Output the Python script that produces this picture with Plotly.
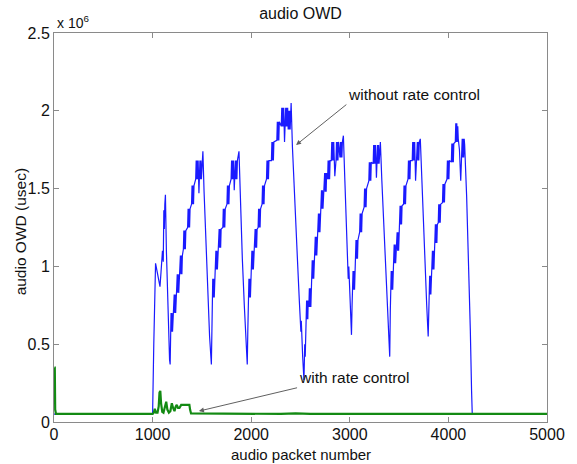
import plotly.graph_objects as go

# audio OWD in units of 10^6 usec, x = audio packet number
# without rate control (blue); step blocks are written as lo/hi zigzags
blue_x = [
    0, 1000, 1012, 1022, 1030, 1045, 1060, 1075, 1085, 1095, 1100, 1108, 1114, 1119, 1124, 1130,
    1140, 1152, 1163, 1172, 1178,
    # ramp 2
    1182, 1187, 1192, 1197, 1202, 1207,
    1214, 1219, 1224, 1229, 1234, 1239,
    1245, 1250, 1255, 1260, 1265, 1270,
    1277, 1282, 1287, 1292, 1297, 1302,
    1312, 1317, 1322, 1327, 1332, 1337,
    1355, 1360, 1365, 1370, 1375, 1380,
    1395, 1400, 1405, 1410, 1415, 1420,
    1437, 1442, 1447, 1452, 1457, 1462,
    1470,
    1475, 1480, 1485, 1490, 1495, 1500,
    1510, 1522, 1540, 1560, 1578, 1596,
    # ramp 3
    1601,
    1605, 1610, 1615, 1620, 1625, 1630,
    1637, 1642, 1647, 1652, 1657, 1662,
    1670, 1675, 1680, 1685, 1690, 1695,
    1712, 1717, 1722, 1727, 1732, 1737,
    1754, 1759, 1764, 1769, 1774, 1779,
    1796, 1801, 1806, 1811, 1816, 1821,
    1828,
    1835, 1840, 1845, 1850, 1855, 1860,
    1876, 1890, 1910, 1930, 1948, 1960,
    # ramp 4
    1966,
    1972, 1977, 1982, 1987, 1992, 1997,
    2002, 2007, 2012, 2017, 2022, 2027,
    2035, 2040, 2045, 2050, 2055, 2060,
    2070, 2075, 2080, 2085, 2090, 2095,
    2110, 2115, 2120, 2125, 2130, 2135,
    2155, 2160, 2165, 2170, 2175, 2180,
    2205, 2210, 2215, 2220, 2225, 2230,
    2260, 2265, 2270, 2275, 2280, 2285,
    2305, 2310, 2315, 2320, 2325, 2330,
    2338,
    2345, 2350, 2355, 2360, 2365, 2370,
    2375, 2380, 2385, 2390, 2395, 2400,
    2405, 2418, 2440, 2465, 2488, 2500, 2504, 2508, 2512, 2522, 2535,
    # ramp 5
    2543, 2548, 2553,
    2558, 2562, 2566, 2570, 2574, 2578,
    2585, 2590, 2595, 2600, 2605, 2610,
    2614, 2619, 2624, 2629, 2634, 2639,
    2645, 2650, 2655, 2660, 2665, 2670,
    2677, 2682, 2687, 2692, 2697, 2702,
    2708, 2713, 2718, 2723, 2728, 2733,
    2740, 2745, 2750, 2755, 2760, 2765,
    2775, 2780, 2785, 2790, 2795, 2800,
    2812, 2817, 2822, 2827, 2832, 2837,
    2848,
    2860, 2865, 2870, 2875, 2880, 2885,
    2900, 2905, 2910, 2915, 2920, 2925,
    2935, 2950, 2965, 2978, 2984, 2990, 3000, 3017,
    # ramp 6
    3023,
    3028, 3033, 3038, 3043, 3048, 3053,
    3058, 3063, 3068, 3073, 3078, 3083,
    3100, 3105, 3110, 3115, 3120, 3125,
    3145, 3150, 3155, 3160, 3165, 3170,
    3193, 3198, 3203, 3208, 3213, 3218,
    3237, 3242, 3247, 3252, 3257, 3262,
    3270,
    3277, 3282, 3287, 3292, 3297, 3302,
    3310, 3325, 3345, 3365, 3385, 3405,
    # ramp 7
    3411,
    3415, 3420, 3425, 3430, 3435, 3440,
    3445, 3450, 3455, 3460, 3465, 3470,
    3475, 3480, 3485, 3490, 3495, 3500,
    3505, 3510, 3515, 3520, 3525, 3530,
    3545, 3550, 3555, 3560, 3565, 3570,
    3590, 3595, 3600, 3605, 3610, 3615,
    3633, 3638, 3643, 3648, 3653, 3658,
    3667,
    3680, 3685, 3690, 3695, 3700, 3705,
    3715, 3730, 3748, 3765, 3780, 3795,
    # ramp 8
    3802,
    3806, 3810, 3814, 3818, 3822, 3826,
    3833, 3838, 3843, 3848, 3853, 3858,
    3863, 3868, 3873, 3878, 3883, 3888,
    3897, 3902, 3907, 3912, 3917, 3922,
    3940, 3945, 3950, 3955, 3960, 3965,
    3985, 3990, 3995, 4000, 4005, 4010,
    4030, 4035, 4040, 4045, 4050, 4055,
    4070, 4075, 4080, 4085, 4090, 4095,
    4100, 4112, 4125,
    4135, 4140, 4145, 4150, 4155, 4160,
    4165, 4185, 4205, 4222, 4235, 4242, 5000,
]
blue_y = [
    0.05, 0.05, 0.50, 0.90, 1.02, 0.97, 0.91, 0.87, 0.96, 1.06, 1.10, 1.03, 1.36, 1.24, 1.40, 1.46,
    1.10, 0.78, 0.52, 0.40, 0.37,
    # ramp 2
    0.58, 0.70, 0.58, 0.70, 0.58, 0.70,
    0.70, 0.82, 0.70, 0.82, 0.70, 0.82,
    0.83, 0.95, 0.83, 0.95, 0.83, 0.95,
    0.95, 1.07, 0.95, 1.07, 0.95, 1.07,
    1.11, 1.23, 1.11, 1.23, 1.11, 1.23,
    1.25, 1.37, 1.25, 1.37, 1.25, 1.37,
    1.40, 1.52, 1.40, 1.52, 1.40, 1.52,
    1.56, 1.68, 1.56, 1.68, 1.56, 1.68,
    1.47,
    1.56, 1.68, 1.56, 1.68, 1.56, 1.68,
    1.74, 1.48, 1.15, 0.82, 0.55, 0.37,
    # ramp 3
    0.60,
    0.80, 0.92, 0.80, 0.92, 0.80, 0.92,
    0.98, 1.10, 0.98, 1.10, 0.98, 1.10,
    1.12, 1.24, 1.12, 1.24, 1.12, 1.24,
    1.25, 1.37, 1.25, 1.37, 1.25, 1.37,
    1.40, 1.52, 1.40, 1.52, 1.40, 1.52,
    1.56, 1.68, 1.56, 1.68, 1.56, 1.68,
    1.49,
    1.56, 1.68, 1.56, 1.68, 1.56, 1.68,
    1.74, 1.40, 1.05, 0.75, 0.50, 0.37,
    # ramp 4
    0.60,
    0.80, 0.92, 0.80, 0.92, 0.80, 0.92,
    0.98, 1.10, 0.98, 1.10, 0.98, 1.10,
    1.12, 1.24, 1.12, 1.24, 1.12, 1.24,
    1.25, 1.37, 1.25, 1.37, 1.25, 1.37,
    1.40, 1.52, 1.40, 1.52, 1.40, 1.52,
    1.56, 1.68, 1.56, 1.68, 1.56, 1.68,
    1.68, 1.80, 1.68, 1.80, 1.68, 1.80,
    1.81, 1.93, 1.81, 1.93, 1.81, 1.93,
    1.90, 2.02, 1.90, 2.02, 1.90, 2.02,
    1.80,
    1.90, 2.02, 1.90, 2.02, 1.90, 2.02,
    1.88, 2.00, 1.88, 2.00, 1.88, 2.00,
    2.05, 1.77, 1.50, 1.10, 0.78, 0.66, 0.58, 0.65, 0.57, 0.42, 0.27,
    # ramp 5
    0.50, 0.42, 0.55,
    0.66, 0.78, 0.66, 0.78, 0.66, 0.78,
    0.74, 0.86, 0.74, 0.86, 0.74, 0.86,
    0.92, 1.04, 0.92, 1.04, 0.92, 1.04,
    1.07, 1.19, 1.07, 1.19, 1.07, 1.19,
    1.22, 1.34, 1.22, 1.34, 1.22, 1.34,
    1.37, 1.49, 1.37, 1.49, 1.37, 1.49,
    1.48, 1.60, 1.48, 1.60, 1.48, 1.60,
    1.56, 1.68, 1.56, 1.68, 1.56, 1.68,
    1.68, 1.80, 1.68, 1.80, 1.68, 1.80,
    1.58,
    1.68, 1.80, 1.68, 1.80, 1.68, 1.80,
    1.70, 1.80, 1.70, 1.80, 1.70, 1.80,
    1.84, 1.55, 1.25, 1.00, 0.92, 1.00, 0.80, 0.56,
    # ramp 6
    0.75,
    0.85, 0.97, 0.85, 0.97, 0.85, 0.97,
    1.05, 1.17, 1.05, 1.17, 1.05, 1.17,
    1.22, 1.34, 1.22, 1.34, 1.22, 1.34,
    1.38, 1.50, 1.38, 1.50, 1.38, 1.50,
    1.55, 1.67, 1.55, 1.67, 1.55, 1.67,
    1.66, 1.78, 1.66, 1.78, 1.66, 1.78,
    1.57,
    1.66, 1.78, 1.66, 1.78, 1.66, 1.78,
    1.80, 1.55, 1.25, 0.98, 0.68, 0.42,
    # ramp 7
    0.72,
    0.85, 0.97, 0.85, 0.97, 0.85, 0.97,
    1.02, 1.14, 1.02, 1.14, 1.02, 1.14,
    1.10, 1.22, 1.10, 1.22, 1.10, 1.22,
    1.27, 1.39, 1.27, 1.39, 1.27, 1.39,
    1.40, 1.52, 1.40, 1.52, 1.40, 1.52,
    1.56, 1.68, 1.56, 1.68, 1.56, 1.68,
    1.68, 1.80, 1.68, 1.80, 1.68, 1.80,
    1.55,
    1.68, 1.80, 1.68, 1.80, 1.68, 1.80,
    1.82, 1.55, 1.25, 0.98, 0.75, 0.55,
    # ramp 8
    0.72,
    0.82, 0.94, 0.82, 0.94, 0.82, 0.94,
    0.98, 1.10, 0.98, 1.10, 0.98, 1.10,
    1.15, 1.27, 1.15, 1.27, 1.15, 1.27,
    1.28, 1.40, 1.28, 1.40, 1.28, 1.40,
    1.41, 1.53, 1.41, 1.53, 1.41, 1.53,
    1.56, 1.68, 1.56, 1.68, 1.56, 1.68,
    1.67, 1.79, 1.67, 1.79, 1.67, 1.79,
    1.80, 1.92, 1.80, 1.92, 1.80, 1.90,
    1.82, 1.75, 1.55,
    1.70, 1.82, 1.70, 1.82, 1.70, 1.82,
    1.78, 1.45, 1.05, 0.60, 0.20, 0.05, 0.05,
]

# with rate control (green)
green_x = [5, 8, 12, 20, 1000, 1012, 1022, 1035, 1050, 1062, 1070, 1078, 1086, 1098, 1110, 1125,
           1138, 1150, 1165, 1180, 1195, 1208, 1222, 1235, 1245, 1258, 1272, 1290, 1305, 1340,
           1373, 1380, 1390, 2300, 2450, 2600, 3400, 3550, 3700, 5000]
green_y = [0.35, 0.35, 0.08, 0.052, 0.052, 0.06, 0.085, 0.06, 0.06, 0.10, 0.19, 0.20, 0.12, 0.065,
           0.06, 0.11, 0.13, 0.08, 0.06, 0.07, 0.12, 0.09, 0.07, 0.10, 0.11, 0.09, 0.09, 0.11,
           0.11, 0.108, 0.11, 0.08, 0.055, 0.052, 0.056, 0.052, 0.052, 0.056, 0.052, 0.052]

x_ticks = [0, 1000, 2000, 3000, 4000, 5000]
y_ticks = [0, 0.5, 1, 1.5, 2, 2.5]
y_tick_labels = ['0', '0.5', '1', '1.5', '2', '2.5']

FONT = 'Liberation Sans, Arial, sans-serif'
AXIS_COLOR = '#8a8a8a'
TEXT_COLOR = '#111111'

fig = go.Figure()
fig.add_trace(go.Scatter(x=blue_x, y=blue_y, mode='lines',
                         line=dict(color='#1a1aff', width=1.2), name='without rate control'))
fig.add_trace(go.Scatter(x=green_x, y=green_y, mode='lines',
                         line=dict(color='#138a13', width=2.2), name='with rate control'))

axis_common = dict(showgrid=False, zeroline=False, showline=True, linecolor=AXIS_COLOR,
                   linewidth=1, mirror='ticks', ticks='inside', ticklen=5, tickcolor=AXIS_COLOR,
                   tickfont=dict(family=FONT, size=16, color=TEXT_COLOR))

fig.update_xaxes(range=[0, 5000], tickvals=x_ticks, ticklabelstandoff=-2, **axis_common)
fig.update_yaxes(range=[0, 2.5], tickvals=y_ticks, ticktext=y_tick_labels, **axis_common)

arrow_color = '#606060'
fig.update_layout(
    width=577, height=464,
    margin=dict(l=54, r=28, t=33, b=42),
    paper_bgcolor='white', plot_bgcolor='white',
    showlegend=False,
    font=dict(family=FONT, size=15, color=TEXT_COLOR),
    title=dict(text='audio OWD', x=0.5, xref='paper', y=1 - 13 / 464, yref='container',
               xanchor='center', yanchor='middle', font=dict(family=FONT, size=16)),
    annotations=[
        dict(text='x 10<sup>6</sup>', xref='paper', yref='paper', x=0.002, y=1.0,
             xanchor='left', yanchor='bottom', showarrow=False, font=dict(size=14)),
        dict(text='audio packet number', xref='paper', yref='paper', x=0.5, y=-0.083,
             xanchor='center', yanchor='middle', showarrow=False, font=dict(size=15)),
        dict(text='audio OWD (usec)', xref='paper', yref='paper', x=-0.069, y=0.49,
             xanchor='center', yanchor='middle', textangle=-90, showarrow=False,
             font=dict(size=15.5)),
        dict(text='without rate control', x=2455, y=1.78, ax=2965, ay=2.04,
             axref='x', ayref='y', xanchor='left', yanchor='bottom',
             showarrow=True, arrowhead=2, arrowsize=1, arrowwidth=1, arrowcolor=arrow_color,
             font=dict(size=15.5)),
        dict(text='with rate control', x=1470, y=0.07, ax=2465, ay=0.22,
             axref='x', ayref='y', xanchor='left', yanchor='bottom',
             showarrow=True, arrowhead=2, arrowsize=1, arrowwidth=1, arrowcolor=arrow_color,
             font=dict(size=15.5)),
    ],
)

fig.write_html('out.html', config={'displayModeBar': False},
               post_script="document.body.style.margin = '0';")
